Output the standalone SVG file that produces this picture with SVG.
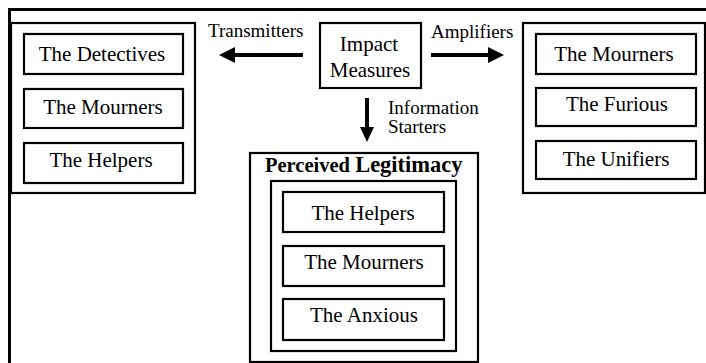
<svg xmlns="http://www.w3.org/2000/svg" width="706" height="363" viewBox="0 0 706 363">
<defs>
<style>
.box{fill:none;stroke:#000;stroke-width:2.2}
.frame{fill:none;stroke:#000;stroke-width:3}
.t{font-family:"Liberation Serif","Times New Roman",serif;font-size:21px;fill:#000;text-anchor:middle}
.lbl{font-family:"Liberation Serif","Times New Roman",serif;font-size:19px;fill:#000}
.title{font-family:"Liberation Serif","Times New Roman",serif;font-weight:bold;fill:#000}
.arr{stroke:#000;stroke-width:4;fill:none}
</style>
</defs>
<rect width="706" height="363" fill="#fff"/>
<g id="frame">
<path class="frame" d="M9.5 363 V9.5 H706"/>
</g>
<g id="transmitters-group">
<rect class="box" x="11" y="23" width="184" height="170"/>
<rect class="box" x="24" y="34" width="159" height="40"/>
<text class="t" x="102" y="61">The Detectives</text>
<rect class="box" x="24" y="89" width="159" height="39"/>
<text class="t" x="103" y="114">The Mourners</text>
<rect class="box" x="24" y="143" width="159" height="40"/>
<text class="t" x="101" y="167">The Helpers</text>
</g>
<g id="impact-measures">
<rect class="box" x="320" y="23" width="101" height="65"/>
<text class="t" x="369" y="51">Impact</text>
<text class="t" x="370" y="77">Measures</text>
</g>
<g id="amplifiers-group">
<rect class="box" x="523" y="23" width="182" height="170"/>
<rect class="box" x="536" y="34" width="160" height="40"/>
<text class="t" x="614" y="61">The Mourners</text>
<rect class="box" x="536" y="88" width="160" height="38"/>
<text class="t" x="617" y="111">The Furious</text>
<rect class="box" x="536" y="141" width="160" height="38"/>
<text class="t" x="616" y="166">The Unifiers</text>
</g>
<g id="perceived-legitimacy">
<rect class="box" x="250" y="153" width="228" height="209"/>
<text class="title" x="265" y="172"><tspan font-size="20.5">Perceived </tspan><tspan font-size="22.5">Legitimacy</tspan></text>
<rect class="box" x="271" y="181" width="185" height="170"/>
<rect class="box" x="283" y="192" width="161" height="40"/>
<text class="t" x="363" y="220">The Helpers</text>
<rect class="box" x="283" y="246" width="161" height="40"/>
<text class="t" x="364" y="269">The Mourners</text>
<rect class="box" x="283" y="299" width="161" height="41"/>
<text class="t" x="364" y="322">The Anxious</text>
</g>
<g id="connectors">
<line class="arr" x1="303" y1="55" x2="232" y2="55"/>
<polygon points="219,55 235,47 235,63" fill="#000"/>
<text class="lbl" x="208" y="37">Transmitters</text>
<line class="arr" x1="431" y1="55" x2="491" y2="55"/>
<polygon points="504,55 488,47 488,63" fill="#000"/>
<text class="lbl" x="431" y="38">Amplifiers</text>
<line class="arr" x1="367" y1="98" x2="367" y2="130"/>
<polygon points="367,142 360,127 374,127" fill="#000"/>
<text class="lbl" x="388" y="114">Information</text>
<text class="lbl" x="388" y="133">Starters</text>
</g>
</svg>
